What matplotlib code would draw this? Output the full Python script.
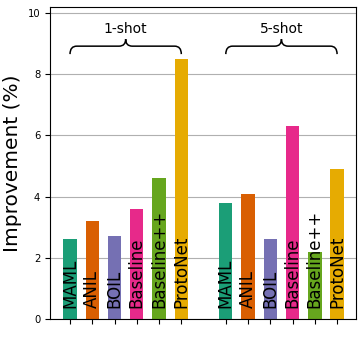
import matplotlib
matplotlib.use("Agg")
import matplotlib.pyplot as plt
from matplotlib.path import Path
from matplotlib.patches import PathPatch
import numpy as np

methods = ["MAML", "ANIL", "BOIL", "Baseline", "Baseline++", "ProtoNet"]
one_shot = [2.6, 3.2, 2.7, 3.6, 4.6, 8.5]
five_shot = [3.8, 4.1, 2.6, 6.3, 2.2, 4.9]
groups = ["1-shot", "5-shot"]
colors = ["#1b9e77", "#d95f02", "#7570b3", "#e7298a", "#66a61e", "#e6ab02"]

fig = plt.figure(figsize=(3.63, 3.46), dpi=100)
ax = fig.add_axes([50/363, 27/346, 306/363, 312/346])

n = len(methods)
x1 = np.arange(n)
x5 = np.arange(n) + n + 1
ax.set_axisbelow(True)
ax.grid(axis="y", color="#b0b0b0", linewidth=0.8)
for xs, vals in [(x1, one_shot), (x5, five_shot)]:
    ax.bar(xs, vals, width=0.6, color=colors, zorder=2)
    for xi, name in zip(xs, methods):
        ax.text(xi, 0.36, name, rotation=90, ha="center", va="bottom",
                fontsize=12, zorder=3)

ax.set_xticks(np.concatenate([x1, x5]))
ax.set_xticklabels([])
ax.set_xlim(-0.9, 12.85)
ax.set_ylim(0, 10.2)
ax.set_yticks([0, 2, 4, 6, 8, 10])
ax.tick_params(axis="y", labelsize=7.2)
ax.set_ylabel("Improvement (%)", fontsize=14.5)


def brace(ax, xa, xb, y_end, y_line, y_tip, label):
    xm = (xa + xb) / 2
    d = 0.3
    verts = [
        (xa, y_end), (xa, y_line), (xa + d, y_line),
        (xm - d, y_line),
        (xm, y_line), (xm, y_tip),
        (xm, y_line), (xm + d, y_line),
        (xb - d, y_line),
        (xb, y_line), (xb, y_end),
    ]
    codes = [Path.MOVETO, Path.CURVE3, Path.CURVE3,
             Path.LINETO,
             Path.CURVE3, Path.CURVE3,
             Path.CURVE3, Path.CURVE3,
             Path.LINETO,
             Path.CURVE3, Path.CURVE3]
    ax.add_patch(PathPatch(Path(verts, codes), fill=False, lw=1.1,
                           edgecolor="black", zorder=4))
    ax.text(xm, 9.48, label, ha="center", va="center", fontsize=10)


brace(ax, x1[0], x1[-1], 8.66, 8.92, 9.15, groups[0])
brace(ax, x5[0], x5[-1], 8.66, 8.92, 9.15, groups[1])

fig.savefig("out.png", dpi=100)
